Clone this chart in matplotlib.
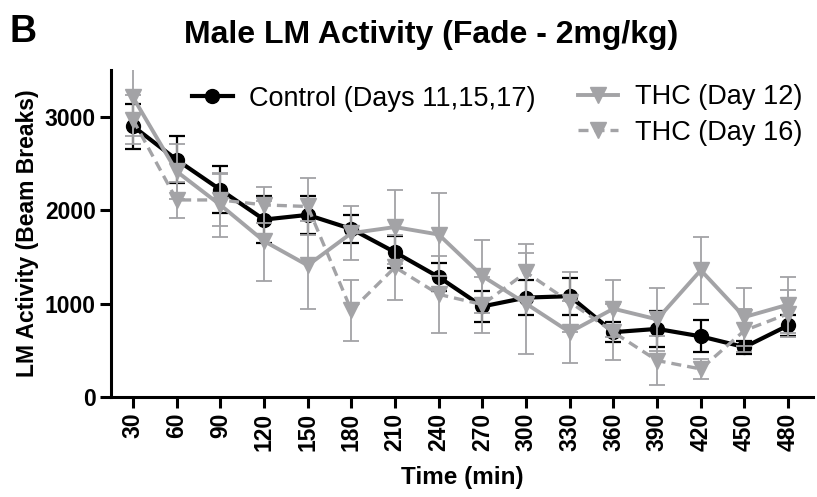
import matplotlib
matplotlib.use("Agg")
import matplotlib.pyplot as plt
from matplotlib.lines import Line2D

plt.rcParams["font.family"] = ["Liberation Sans", "DejaVu Sans"]

# Time points (min)
times = [30, 60, 90, 120, 150, 180, 210, 240, 270, 300, 330, 360, 390, 420, 450, 480]

# Control (Days 11,15,17)
control = [2900, 2540, 2220, 1900, 1950, 1800, 1550, 1285, 970, 1065, 1080, 695, 730, 650, 535, 767]
control_sem = [240, 250, 250, 250, 200, 150, 170, 150, 165, 185, 200, 110, 190, 170, 70, 115]

# THC (Day 12)
thc12 = [3210, 2415, 2057, 1670, 1410, 1755, 1820, 1740, 1295, 1000, 695, 946, 832, 1358, 857, 990]
thc12_sem = [420, 290, 340, 430, 470, 290, 400, 440, 390, 540, 330, 305, 340, 360, 310, 300]

# THC (Day 16)
thc16 = [2970, 2110, 2110, 2057, 2040, 928, 1390, 1100, 990, 1335, 1018, 695, 391, 301, 713, 892]
thc16_sem = [260, 190, 280, 190, 300, 330, 350, 410, 300, 300, 320, 300, 260, 110, 230, 250]

gray = "#a3a3a6"

fig = plt.figure(figsize=(8.17, 4.97), dpi=100)
ax = fig.add_axes([0.136, 0.201, 0.859, 0.658])

ax.errorbar(times, control, yerr=control_sem, color="black", lw=3, marker="o",
            markersize=10, capsize=6, elinewidth=1.6, capthick=1.6, zorder=3)
ax.errorbar(times, thc12, yerr=thc12_sem, color=gray, lw=2.8, marker="v",
            markersize=12, capsize=6, elinewidth=1.3, capthick=1.3, zorder=4)
ax.errorbar(times, thc16, yerr=thc16_sem, color=gray, lw=2.4, marker="v",
            markersize=11, capsize=6, elinewidth=1.3, capthick=1.3,
            dashes=(3, 1.8), zorder=5)

ax.set_xlim(15, 497)
ax.set_ylim(0, 3500)
ax.set_xticks(times)
ax.set_xticklabels([str(t) for t in times], rotation=90, fontsize=16.5, fontweight="bold")
ax.set_yticks([0, 1000, 2000, 3000])
ax.set_yticklabels(["0", "1000", "2000", "3000"], fontsize=16.5, fontweight="bold")

for side in ["top", "right"]:
    ax.spines[side].set_visible(False)
for side in ["left", "bottom"]:
    ax.spines[side].set_linewidth(2.2)
ax.tick_params(axis="both", length=8, width=2.2, pad=3)

ax.set_xlabel("Time (min)", fontsize=17.5, fontweight="bold", labelpad=11)
ax.set_ylabel("LM Activity (Beam Breaks)", fontsize=16.5, fontweight="bold", labelpad=4)

fig.text(0.528, 0.93, "Male LM Activity (Fade - 2mg/kg)", fontsize=23,
         fontweight="bold", ha="center", va="center")
fig.text(0.012, 0.935, "B", fontsize=27, fontweight="bold", ha="left", va="center")

# legends
h_ctrl = Line2D([], [], color="black", lw=3, marker="o", markersize=10)
h_12 = Line2D([], [], color=gray, lw=2.8, marker="v", markersize=12)
h_16 = Line2D([], [], color=gray, lw=2.4, marker="v", markersize=11, dashes=(3, 1.8))

leg1 = ax.legend([h_ctrl], ["Control (Days 11,15,17)"], loc="upper left",
                 bbox_to_anchor=(0.1, 0.985), frameon=False, fontsize=19.5,
                 handlelength=1.5, handletextpad=0.6, borderaxespad=0)
ax.add_artist(leg1)
ax.legend([h_12, h_16], ["THC (Day 12)", "THC (Day 16)"], loc="upper right",
          bbox_to_anchor=(1.0, 0.99), frameon=False, fontsize=19.5,
          handlelength=1.5, handletextpad=0.6, labelspacing=0.36, borderaxespad=0)

plt.savefig("out.png", dpi=100)
